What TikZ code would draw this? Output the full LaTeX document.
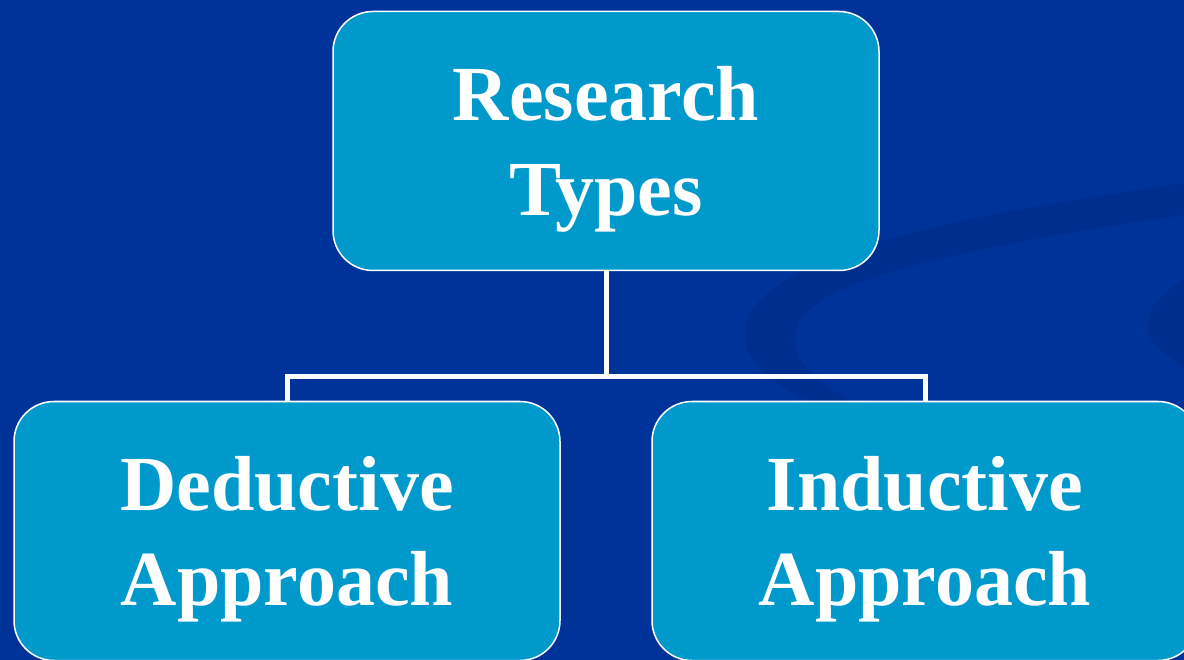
\documentclass[tikz,border=0pt]{standalone}
\usepackage{fontspec}
\setmainfont{Liberation Serif}
\usepackage{tikz}
\usetikzlibrary{positioning}
\definecolor{bg}{HTML}{003399}
\definecolor{swoosh}{HTML}{002E8E}
\definecolor{boxfill}{HTML}{0099CC}
\tikzset{
  box/.style={draw=white, line width=1.5pt, fill=boxfill, rounded corners=40pt,
    minimum width=546pt, minimum height=259pt, align=center, text=white,
    font=\fontsize{78}{95}\selectfont\bfseries, text height=166pt},
  link/.style={draw=white, line width=5pt},
}

\begin{document}
\begin{tikzpicture}[x=1pt,y=-1pt]
  \fill[bg] (0,0) rectangle (1184,660);
  \useasboundingbox (0,0) rectangle (1184,660);
  % background swooshes
  \fill[swoosh] (1184,183) .. controls (1000,210) and (820,240) .. (760,300)
    .. controls (720,345) and (760,385) .. (850,420)
    -- (870,410) .. controls (790,375) and (770,330) .. (830,295)
    .. controls (900,260) and (1050,235) .. (1184,215) -- cycle;
  \fill[swoosh] (1184,280) .. controls (1150,298) and (1138,325) .. (1155,345)
    .. controls (1165,355) and (1175,362) .. (1184,367) -- cycle;
  % boxes
  \node[box] (types) at (606,141) {Research\\Types};
  \node[box] (ded) at (287,531) {Deductive\\Approach};
  \node[box] (ind) at (925,531) {Inductive\\Approach};
  % links
  \coordinate (fork) at (606,377);
  \draw[link] (types.south) -- (fork);
  \draw[link] (ded.north) |- (fork) -| (ind.north);
\end{tikzpicture}
\end{document}
